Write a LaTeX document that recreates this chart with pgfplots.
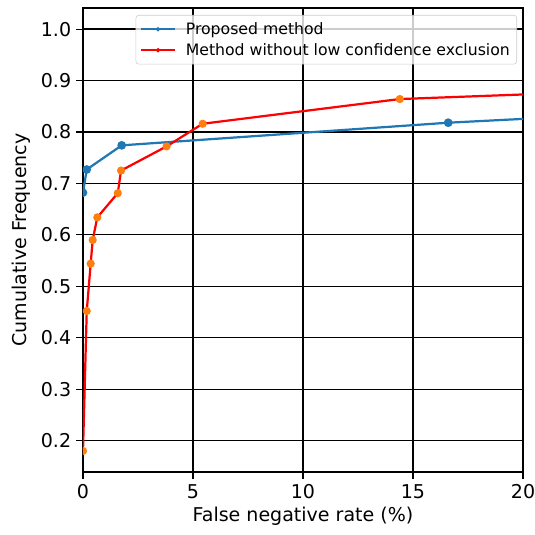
\documentclass[border=0pt]{standalone}
\usepackage{pgfplots}
\pgfplotsset{compat=1.18}
\usepackage{fontspec}
\setmainfont{DejaVu Sans}
\definecolor{mblue}{HTML}{1F77B4}
\definecolor{morange}{HTML}{FF7F0E}
\begin{document}
\begin{tikzpicture}
\begin{axis}[
  scale only axis,
  width=316.8pt, height=334.08pt,
  xmin=0, xmax=20, ymin=0.139, ymax=1.041,
  xtick={0,5,10,15,20},
  ytick={0.2,0.3,0.4,0.5,0.6,0.7,0.8,0.9,1.0},
  yticklabel style={/pgf/number format/.cd,fixed,fixed zerofill,precision=1},
  /pgf/number format/assume math mode=true,
  tick label style={font=\fontsize{13.7}{16}\selectfont, black},
  xticklabel style={yshift=-0.5pt},
  label style={font=\fontsize{13.7}{16}\selectfont},
  xlabel={False negative rate (\%)},
  ylabel={Cumulative Frequency},
  xlabel style={yshift=1pt},
  ylabel style={yshift=1pt},
  tick align=outside, tick pos=left,
  major tick length=5pt,
  every tick/.style={black, line width=0.8pt},
  axis line style={black, line width=0.8pt},
  grid=major,
  major grid style={black, line width=0.9pt},
  clip marker paths=true,
  legend style={at={(axis description cs:1,1)}, anchor=north east, xshift=-4.32pt, yshift=-5.04pt,
    draw=black!20, rounded corners=2pt, fill=white, fill opacity=0.8, text opacity=1,
    font=\fontsize{11.3}{13}\selectfont, row sep=1pt, inner sep=3pt},
  legend cell align=left,
  legend image code/.code={\draw[#1, mark=none] (0cm,0cm) -- (0.85cm,0cm); \fill[#1] (0.425cm,0cm) circle (0.6pt); \path (1.03cm,0cm);},
]
\addplot[mblue, line width=1.6pt, mark=*, mark size=2.3pt, mark options={mblue}] coordinates {
(0,0.682) (0.17,0.727) (1.76,0.774) (16.6,0.818) (100,1.0)};
\addlegendentry{Proposed method}
\addplot[red, line width=1.6pt, mark=*, mark size=2.1pt, mark options={morange, draw=morange}] coordinates {
(0,0.18) (0.17,0.452) (0.35,0.544) (0.44,0.590) (0.65,0.634) (1.58,0.681) (1.73,0.725) (3.8,0.772) (5.44,0.816) (14.4,0.864) (100,1.0)};
\addlegendentry{Method without low confidence exclusion}
\end{axis}
\pgfresetboundingbox
\path[use as bounding box] (current axis.south west) ++(-59.76pt,-45.36pt) rectangle ++(385.2pt,385.2pt);
\end{tikzpicture}
\end{document}
